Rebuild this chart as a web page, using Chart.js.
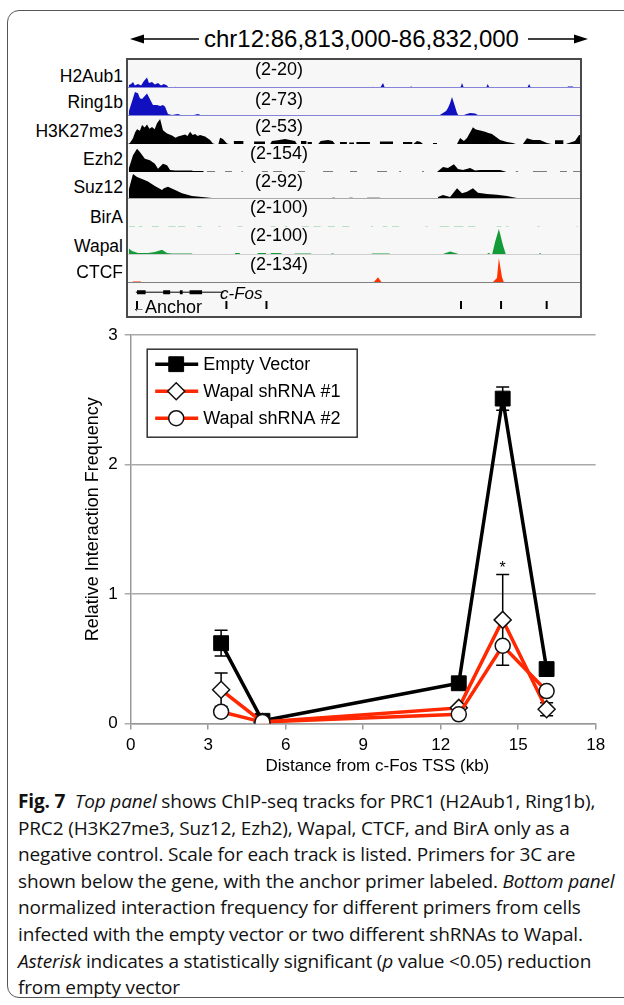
<!DOCTYPE html>
<html>
<head>
<meta charset="utf-8">
<script src="https://cdn.jsdelivr.net/npm/chart.js@4.4.1/dist/chart.umd.min.js"></script>
<style>
  body { margin:0; width:624px; height:1005px; position:relative; overflow:hidden; background:#fff; font-family:'Liberation Sans', Arial, sans-serif; color:#000; }
  .abs { position:absolute; }
  #frame { left:7px; top:10px; width:660px; height:986px; border:1px solid #555; border-radius:12px; }
  #header { left:204px; top:25px; font-size:24px; line-height:28px; white-space:nowrap; }
  #panel { left:126px; top:58px; width:456px; height:260px; box-sizing:border-box; border:2px solid #4a4a4a; background:#f7f7f7; }
  .name { font-size:17.5px; line-height:20px; right:501px; text-align:right; white-space:nowrap; z-index:3; }
  .scale { font-size:18px; line-height:20px; width:120px; left:219px; text-align:center; z-index:3; }
  .track { z-index:2; }
  #cfos { left:220px; top:284px; font-size:17px; line-height:20px; font-style:italic; z-index:3; }
  #anchor { left:132px; top:297px; font-size:18px; line-height:20px; z-index:3; white-space:nowrap; }
  #anchor span { font-size:13px; vertical-align:1px; }
  #caption { left:18px; top:788px; font-family:'Open Sans', 'Noto Sans', sans-serif; font-size:19px; line-height:26.6px; white-space:nowrap; color:#111; letter-spacing:-0.15px; }
  #caption b { font-weight:700; }
</style>
</head>
<body>
<div id="frame" class="abs"></div>
<svg class="abs" style="left:0;top:0" width="624" height="60">
  <line x1="140" y1="39" x2="199" y2="39" stroke="#000" stroke-width="1.6"/>
  <polygon points="130,39 144,34.5 144,43.5" fill="#000"/>
  <line x1="528" y1="39" x2="578" y2="39" stroke="#000" stroke-width="1.6"/>
  <polygon points="588,39 574,34.5 574,43.5" fill="#000"/>
</svg>
<div id="header" class="abs">chr12:86,813,000-86,832,000</div>
<div id="panel" class="abs"></div>
<div id="cfos" class="abs">c-Fos</div>
<div id="anchor" class="abs"><span>&#8592;</span>Anchor</div>
<canvas id="plot" class="abs" style="left:0;top:318px" width="624" height="462"></canvas>
<div id="caption" class="abs">
<b>Fig. 7</b>&nbsp; <i>Top panel</i> shows ChIP-seq tracks for PRC1 (H2Aub1, Ring1b),<br>
PRC2 (H3K27me3, Suz12, Ezh2), Wapal, CTCF, and BirA only as a<br>
negative control. Scale for each track is listed. Primers for 3C are<br>
shown below the gene, with the anchor primer labeled. <i>Bottom panel</i><br>
normalized interaction frequency for different primers from cells<br>
infected with the empty vector or two different shRNAs to Wapal.<br>
<i>Asterisk</i> indicates a statistically significant (<i>p</i> value &lt;0.05) reduction<br>
from empty vector
</div>

<script>
Chart.defaults.font.family = "'Liberation Sans', Arial, sans-serif";
Chart.defaults.color = '#000';
Chart.defaults.animation = false;

// ---------- top panel: ChIP-seq tracks, x = kb from chr12:86,813,000 ----------
const trackNames = ['H2Aub1', 'Ring1b', 'H3K27me3', 'Ezh2', 'Suz12', 'BirA', 'Wapal', 'CTCF'];
const trackMax = [20, 73, 53, 154, 92, 100, 100, 134];

// [kb, signal] profiles
const h2aub1Peaks = [[0,2],[0.04,4],[0.13,4.7],[0.21,6],[0.29,3.6],[0.42,4.7],[0.55,3.6],[0.67,6.7],[0.8,9],[0.88,5.3],[1.01,6],[1.13,4.4],[1.26,5.3],[1.39,3.6],[1.51,4.7],[1.64,3.6],[1.72,2],
  [1.96,2],[2.0,3],[2.04,2],[2.27,2],[2.31,3],[2.35,2],[2.52,2],[2.56,2.7],[2.6,2],[4.98,2],[5.02,2.7],[5.06,2],
  [8.64,2],[8.68,2.7],[8.72,2],[9.36,2],[9.4,2.7],[9.44,2],[10.25,2],[10.29,3],[10.33,2],[10.6,2],[10.65,3.5],[10.72,5.4],[10.8,2],
  [11.17,2],[11.21,2.7],[11.25,2],[11.85,2],[11.9,3.3],[11.95,2],[13.95,2],[14.0,3.4],[14.04,5.4],[14.12,2],[14.42,2],[14.46,2.7],[14.5,2],
  [15.05,2],[15.12,4.7],[15.2,2],[15.93,2],[15.97,2.7],[16.01,2],[16.78,2],[16.86,4.7],[16.94,2],[18.45,2],[18.49,3],[18.7,3],[18.74,2],[19,2]];
const ring1bPeaks = [[0,2],[0.04,15],[0.21,49],[0.29,65],[0.42,62],[0.5,49],[0.59,47],[0.8,61],[0.92,47],[1.05,31],[1.22,31],[1.35,28],[1.47,31],[1.56,26],[1.68,7],[1.85,4.6],[2.1,7],[2.27,3.3],[2.52,3.3],[2.69,3.3],[2.94,7],[3.15,2],
  [8.75,2],[8.79,3.3],[8.83,2],[9.17,2],[9.21,3.3],[9.25,2],[10.85,2],[10.89,3.3],[10.93,2],
  [12.99,2],[13.11,4.6],[13.24,10],[13.37,15],[13.45,23],[13.54,36],[13.62,52],[13.75,26],[13.83,10],[13.91,2],[14.05,2],[14.17,6],[14.38,10],[14.59,8.6],[14.71,4.6],[14.88,4.6],[15.64,4.6],[15.7,2],
  [18.12,2],[18.16,3.3],[18.2,2],[19,2]];
const h3k27me3Peaks = [[0,2],[0.08,4],[0.21,13],[0.3,24],[0.38,30],[0.5,27],[0.59,38],[0.7,33],[0.8,39],[0.9,31],[1.01,34],[1.12,30],[1.22,41],[1.35,49],[1.47,28],[1.64,22],[1.85,18],[2.0,14],[2.1,16],[2.4,20],[2.5,17],[2.61,25],[2.72,19],[2.82,21],[2.93,17],[3.03,19],[3.24,16],[3.45,9.5],[3.57,3],[3.66,2],
  [3.8,2],[3.87,14],[3.99,11.5],[4.16,3],[4.25,2],[5.98,2],[6.05,7.7],[6.3,9],[6.6,11.5],[7.02,7.7],[7.1,2],[8.0,2],[8.1,7.7],[8.41,9.6],[8.6,7.7],[8.7,2],
  [12.0,2],[12.15,7.7],[12.3,5.8],[12.4,2],
  [13.83,2],[13.96,13.3],[14.12,7.7],[14.25,13.3],[14.5,33.6],[14.6,30],[14.71,28.5],[14.85,27],[15.01,25.2],[15.15,23],[15.3,21],[15.64,9.6],[15.93,5.8],[16.18,3.9],[16.3,2],
  [16.6,2],[16.77,12.8],[17.02,9.6],[17.32,9.6],[17.61,3.9],[17.8,2],[18.4,2],[18.79,7.7],[18.96,19],[19,19]];
const ezh2Peaks = [[0,2],[0.04,24.5],[0.21,96],[0.38,133],[0.5,115],[0.71,77],[0.92,68],[1.13,49],[1.26,21],[1.47,49],[1.64,40],[1.77,13],[1.98,10.5],[2.69,10.5],[2.73,7.6],[3.15,7.6],[3.2,2],
  [12.99,2],[13.24,30],[13.45,24.5],[13.7,45],[13.87,19],[14.08,13],[14.38,24.5],[14.59,10.5],[14.8,13],[15.64,13],[15.85,4.8],[15.9,2]];
const suz12Peaks = [[0,2],[0.04,35],[0.21,85],[0.38,75],[0.59,69],[0.84,60],[1.13,45],[1.43,32],[1.51,38],[1.68,43],[1.98,32],[2.27,21],[2.69,12],[3.11,8.7],[3.53,5.3],[4.62,5.3],[4.7,2],
  [13.0,2],[13.03,8.7],[13.24,15.3],[13.54,8.7],[13.83,37.6],[14.04,21],[14.25,26.3],[14.5,37.6],[14.71,23],[15.09,18.7],[15.51,16.3],[15.93,12],[16.35,5.3],[16.5,2]];
const birAPeaks = [[0,2],[19,2]];
const wapalPeaks = [[0,2],[0.04,26],[0.17,16.5],[0.42,9.3],[0.84,9.3],[1.13,13],[1.43,21],[1.64,9.3],[1.85,7.4],[2.69,7.4],[2.75,2],
  [13.1,2],[13.3,7.4],[13.54,14.7],[13.83,7.4],[14.0,2],[15.3,2],[15.43,49],[15.59,96],[15.76,38],[15.89,2]];
const ctcfPeaks = [[0,2],[10.3,2],[10.51,30],[10.68,2],[15.3,2],[15.51,26.5],[15.59,124],[15.72,31],[15.81,2],[19,2]];

// low flat stretches: [startKb, endKb, signal]
const h2aub1Dashes = [];
const ring1bDashes = [];
const h3k27me3Dashes = [[4.45,4.85,7.7],[5.3,5.76,6.7],[7.27,7.5,7.7],[7.55,7.73,6],[8.91,9.2,5.8],[9.3,9.5,5],[9.6,10.17,5.8],[10.59,11.14,6.7],[11.56,11.95,5.8],[12.82,12.99,3.9],[17.95,18.3,9]];
const ezh2Dashes = [[3.32,3.66,5],[4.08,4.37,5],[4.77,4.83,5],[5.63,5.88,5],[6.1,6.47,5],[7.15,7.44,5],[8.2,8.62,5],[9.33,9.63,5],[10.47,10.89,5],[11.4,11.48,5],[12.36,12.44,5],
  [16.3,16.4,5],[17.02,17.61,5],[18.16,18.45,5],[18.71,19,5]];
const suz12Dashes = [[5.0,5.4,5],[6.0,6.3,5],[6.8,7.1,5],[7.5,7.8,5],[8.58,8.7,6],[9.3,9.45,6],[10.05,10.6,6],[11.4,11.5,5],[12.1,12.8,4.5],[16.77,17.61,4.5],[18.45,19,5]];
const birADashes = [[0.05,0.3,4],[0.45,0.6,4],[1.0,1.3,4],[1.7,2.0,4],[2.1,2.4,4],[2.9,3.1,4],[3.8,3.9,4],[4.6,4.8,4],[6.0,6.2,4],[6.6,6.7,4],[7.3,7.6,4],[7.8,8.1,4],
  [8.4,8.7,4],[9.0,9.3,4],[10.2,10.3,4],[10.7,10.9,4],[11.1,11.4,4],[12.5,12.6,4],[13.1,13.5,4],[13.7,14.1,4],[14.3,14.6,4],[15.5,15.7,4],[15.9,16.0,4],[17.2,17.3,4],[18.85,18.9,4]];
const wapalDashes = [[3.2,3.3,5.6],[3.6,3.7,5.6],[4.5,4.7,9.3],[5.45,5.8,9.3],[6.0,6.45,9.3],[7.0,7.7,7.4],[8.55,8.65,7.4],[9.6,9.7,5.6],[10.25,11.0,7.4],[11.4,11.5,5.6],[12.25,12.8,5.6],
  [14.35,14.42,5.6],[15.12,15.2,9.3],[16.45,17.0,5.6],[17.3,17.35,9.3],[18.15,19,5.6]];
const ctcfDashes = [[0.2,0.55,9.3],[4.6,4.65,6.9],[5.65,5.7,4.4],[15.15,15.25,5]];

const trackPeaks = [h2aub1Peaks, ring1bPeaks, h3k27me3Peaks, ezh2Peaks, suz12Peaks, birAPeaks, wapalPeaks, ctcfPeaks];
const trackDashes = [h2aub1Dashes, ring1bDashes, h3k27me3Dashes, ezh2Dashes, suz12Dashes, birADashes, wapalDashes, ctcfDashes];

// gene model and 3C primers (kb)
const geneBody = [0.08, 3.87];
const geneExons = [[0.13, 0.5], [1.26, 1.56], [1.98, 2.1], [2.4, 2.94]];
const primerKb = [0.13, 3.99, 5.72, 14.12, 15.85, 17.82];

// ---------- bottom panel: 3C ----------
const distanceKb = [3.5, 5.1, 12.7, 14.4, 16.1];
const emptyVector = [0.62, 0.02, 0.31, 2.51, 0.42];
const emptyVectorErr = [0.1, 0, 0, 0.09, 0];
const wapalSh1 = [0.26, 0.01, 0.12, 0.80, 0.11];
const wapalSh1Err = [0.13, 0, 0, 0.35, 0.05];
const wapalSh2 = [0.09, 0.01, 0.07, 0.60, 0.25];
const wapalSh2Err = [0, 0, 0, 0, 0];
const significantKb = 14.4;
const xTitle = 'Distance from c-Fos TSS (kb)';
const yTitle = 'Relative Interaction Frequency';

// layout for the tracks
const trackBaseY = [88, 116, 144, 172, 199, 227, 255, 283];
const trackColors = ['#1010c0', '#1010c0', '#000', '#000', '#000', '#7cc98d', '#139b38', '#ff3300'];
const baseLineColors = ['#8484d8', '#8484d8', null, null, '#aaa', null, '#cfcfcf', '#808080'];
const nameY = [76, 102, 131, 159, 187, 217, 246, 272];
const scaleY = [70, 100, 127, 154, 182, 208, 236, 265];

function toPoints(peaks, dashes) {
  const pts = peaks.map(p => ({ x: p[0], y: p[1] }));
  dashes.forEach(d => pts.push({ x: d[0], y: 2 }, { x: d[0], y: d[2] }, { x: d[1], y: d[2] }, { x: d[1], y: 2 }));
  return pts.sort((a, b) => a.x - b.x);
}

const baseLine = {
  id: 'baseLine',
  afterDatasetsDraw(chart, args, opts) {
    if (!opts.color) return;
    const { ctx, chartArea } = chart;
    ctx.save();
    ctx.strokeStyle = opts.color;
    ctx.lineWidth = 1;
    ctx.beginPath();
    ctx.moveTo(chartArea.left, chartArea.bottom - 0.5);
    ctx.lineTo(chartArea.right, chartArea.bottom - 0.5);
    ctx.stroke();
    ctx.restore();
  }
};

trackNames.forEach((name, i) => {
  const cv = document.createElement('canvas');
  cv.className = 'abs track';
  cv.width = 452; cv.height = 27;
  cv.style.left = '128px';
  cv.style.top = (trackBaseY[i] - 27) + 'px';
  document.body.appendChild(cv);
  new Chart(cv, {
    type: 'line',
    data: { datasets: [{
      data: toPoints(trackPeaks[i], trackDashes[i]),
      borderWidth: 0, borderColor: trackColors[i], backgroundColor: trackColors[i],
      fill: 'start', pointRadius: 0, tension: 0
    }] },
    options: {
      responsive: false, events: [],
      layout: { padding: 0 },
      plugins: { legend: { display: false }, tooltip: { enabled: false }, baseLine: { color: baseLineColors[i] } },
      scales: {
        x: { type: 'linear', display: false, min: 0, max: 19 },
        y: { display: false, min: 2, max: trackMax[i] }
      }
    },
    plugins: [baseLine]
  });

  const lab = document.createElement('div');
  lab.className = 'abs name';
  lab.style.top = (nameY[i] - 10) + 'px';
  lab.textContent = name;
  document.body.appendChild(lab);

  const sc = document.createElement('div');
  sc.className = 'abs scale';
  sc.style.top = (scaleY[i] - 11.5) + 'px';
  sc.textContent = '(2-' + trackMax[i] + ')';
  document.body.appendChild(sc);
});

// gene model + primers
const geneCv = document.createElement('canvas');
geneCv.className = 'abs track';
geneCv.width = 452; geneCv.height = 32;
geneCv.style.left = '128px'; geneCv.style.top = '284px';
document.body.appendChild(geneCv);
const exonPts = [];
geneExons.forEach(e => exonPts.push({ x: e[0], y: 0.89 }, { x: e[1], y: 0.89 }, { x: e[1] + 0.01, y: null }));
new Chart(geneCv, {
  type: 'line',
  data: { datasets: [
    { data: [{ x: geneBody[0], y: 0.89 }, { x: geneBody[1], y: 0.89 }], borderColor: '#000', borderWidth: 1, pointRadius: 0 },
    { data: exonPts, borderColor: '#000', borderWidth: 4, pointRadius: 0, spanGaps: false, borderCapStyle: 'butt' },
    { data: primerKb.map(x => ({ x, y: 0.25 })), showLine: false, pointStyle: 'line', rotation: 90, pointRadius: 4,
      pointBorderWidth: 2, pointBorderColor: '#000' }
  ] },
  options: {
    responsive: false, events: [], layout: { padding: 0 },
    plugins: { legend: { display: false }, tooltip: { enabled: false } },
    scales: { x: { type: 'linear', display: false, min: 0, max: 19 }, y: { display: false, min: 0, max: 1 } }
  }
});

// ---------- bottom chart ----------
const redLine = '#ff2800';
const errorBars = {
  id: 'errorBars',
  beforeDatasetsDraw(chart) {
    const { ctx, scales: { x, y } } = chart;
    ctx.save();
    ctx.strokeStyle = '#000';
    ctx.lineWidth = 1.5;
    chart.data.datasets.forEach(ds => {
      ds.err.forEach((e, i) => {
        if (!e) return;
        const px = x.getPixelForValue(ds.data[i].x);
        const top = y.getPixelForValue(ds.data[i].y + e);
        const bot = y.getPixelForValue(ds.data[i].y - e);
        ctx.beginPath();
        ctx.moveTo(px, top); ctx.lineTo(px, bot);
        ctx.moveTo(px - 6.5, top); ctx.lineTo(px + 6.5, top);
        ctx.moveTo(px - 6.5, bot); ctx.lineTo(px + 6.5, bot);
        ctx.stroke();
      });
    });
    ctx.restore();
  },
  afterDatasetsDraw(chart) {
    const { ctx, scales: { x, y } } = chart;
    const i = distanceKb.indexOf(significantKb);
    ctx.save();
    ctx.font = "16px 'Liberation Sans', Arial, sans-serif";
    ctx.textAlign = 'center';
    ctx.textBaseline = 'middle';
    ctx.fillStyle = '#000';
    ctx.fillText('*', x.getPixelForValue(significantKb), y.getPixelForValue(wapalSh1[i] + wapalSh1Err[i]) - 6);
    ctx.restore();
  }
};

// axis titles: x centred between plot left and canvas right, y a little above mid-plot
const axisTitles = {
  id: 'axisTitles',
  afterDraw(chart) {
    const { ctx, chartArea } = chart;
    ctx.save();
    ctx.fillStyle = '#000';
    ctx.textAlign = 'center';
    ctx.textBaseline = 'middle';
    ctx.font = "17px 'Liberation Sans', Arial, sans-serif";
    ctx.fillText(xTitle, (chartArea.left + chart.width) / 2, chartArea.bottom + 43);
    ctx.translate(chartArea.left - 38, (chartArea.top + chartArea.bottom) / 2 - 10);
    ctx.rotate(-Math.PI / 2);
    ctx.font = "18px 'Liberation Sans', Arial, sans-serif";
    ctx.fillText(yTitle, 0, 0);
    ctx.restore();
  }
};

function marker(ctx, style, r, cx, cy) {
  ctx.beginPath();
  if (style === 'rect') {
    const s = Math.SQRT1_2 * r;
    ctx.rect(cx - s, cy - s, 2 * s, 2 * s);
  } else if (style === 'rectRot') {
    ctx.moveTo(cx, cy - r); ctx.lineTo(cx + r, cy); ctx.lineTo(cx, cy + r); ctx.lineTo(cx - r, cy); ctx.closePath();
  } else {
    ctx.arc(cx, cy, r, 0, Math.PI * 2);
  }
  ctx.fill();
  ctx.stroke();
}

const legendBox = {
  id: 'legendBox',
  afterDraw(chart) {
    const { ctx, chartArea } = chart;
    const x0 = chartArea.left + 16.5, y0 = chartArea.top + 14;
    ctx.save();
    ctx.lineWidth = 1.5;
    ctx.strokeStyle = '#333';
    ctx.strokeRect(x0, y0, 210, 88);
    ctx.font = "18px 'Liberation Sans', Arial, sans-serif";
    ctx.textBaseline = 'middle';
    chart.data.datasets.forEach((ds, i) => {
      const yy = y0 + 15 + i * 27;
      ctx.strokeStyle = ds.borderColor;
      ctx.lineWidth = ds.borderWidth;
      ctx.beginPath(); ctx.moveTo(x0 + 8, yy); ctx.lineTo(x0 + 51, yy); ctx.stroke();
      ctx.fillStyle = ds.pointBackgroundColor;
      ctx.strokeStyle = ds.pointBorderColor;
      ctx.lineWidth = ds.pointBorderWidth;
      marker(ctx, ds.pointStyle, ds.pointRadius, x0 + 29, yy);
      ctx.fillStyle = '#000';
      ctx.fillText(ds.label, x0 + 56, yy + 1);
    });
    ctx.restore();
  }
};

new Chart(document.getElementById('plot'), {
  type: 'line',
  data: { datasets: [
    { label: 'Empty Vector', data: distanceKb.map((x, i) => ({ x, y: emptyVector[i] })), err: emptyVectorErr,
      borderColor: '#000', borderWidth: 3.5, pointStyle: 'rect', pointRadius: 10.5,
      pointBackgroundColor: '#000', pointBorderColor: '#000', pointBorderWidth: 1, order: 3 },
    { label: 'Wapal shRNA #1', data: distanceKb.map((x, i) => ({ x, y: wapalSh1[i] })), err: wapalSh1Err,
      borderColor: redLine, borderWidth: 3.5, pointStyle: 'rectRot', pointRadius: 8.5,
      pointBackgroundColor: '#fff', pointBorderColor: '#111', pointBorderWidth: 1.5, order: 2 },
    { label: 'Wapal shRNA #2', data: distanceKb.map((x, i) => ({ x, y: wapalSh2[i] })), err: wapalSh2Err,
      borderColor: redLine, borderWidth: 3.5, pointStyle: 'circle', pointRadius: 7.5,
      pointBackgroundColor: '#fff', pointBorderColor: '#111', pointBorderWidth: 1.5, order: 1 }
  ] },
  options: {
    responsive: false, events: [],
    layout: { padding: { left: 79, top: 12, right: 28.3, bottom: 0 } },
    plugins: { legend: { display: false }, tooltip: { enabled: false } },
    scales: {
      x: {
        type: 'linear', min: 0, max: 18,
        ticks: { stepSize: 3, font: { size: 17 }, padding: 6, color: '#000' },
        grid: { drawOnChartArea: false, tickLength: 6, color: '#999', lineWidth: 1.5 },
        border: { color: '#999', width: 1.5 },
        afterFit: s => { s.height = 56.6; }
      },
      y: {
        min: 0, max: 3,
        ticks: { stepSize: 1, font: { size: 17 }, padding: 7, color: '#000' },
        grid: { color: '#aaa', lineWidth: 1.5, tickLength: 6 },
        border: { color: '#999', width: 1.5 },
        afterFit: s => { s.width = 51.7; }
      }
    }
  },
  plugins: [errorBars, legendBox, axisTitles]
});
</script>
</body>
</html>
